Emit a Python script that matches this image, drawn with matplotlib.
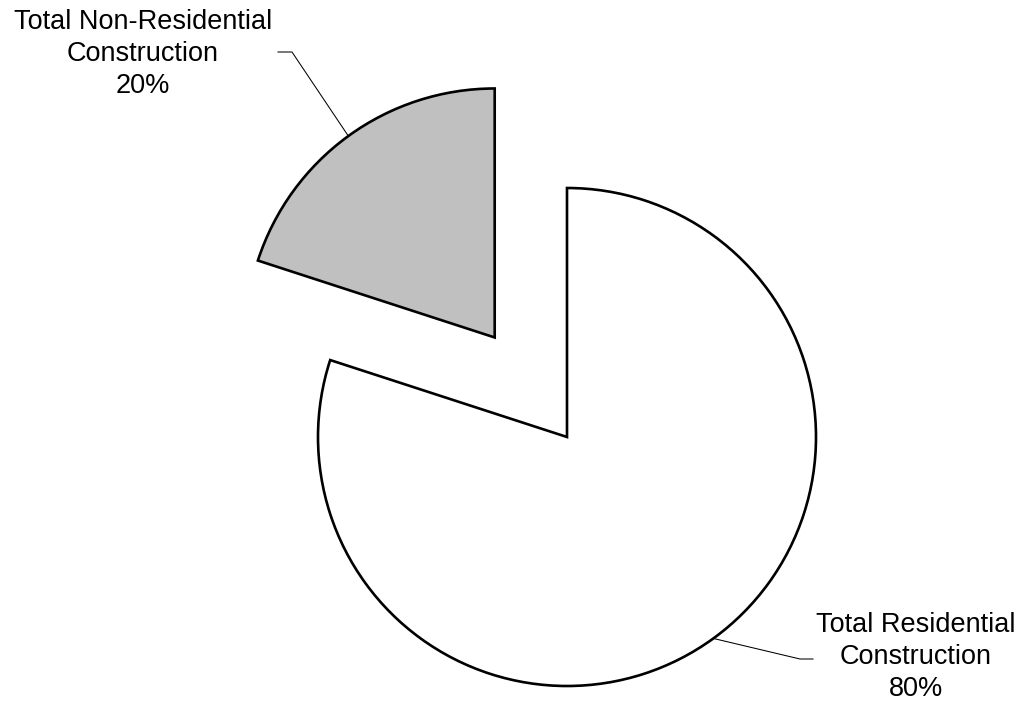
import numpy as np
import matplotlib
matplotlib.use('Agg')
import matplotlib.pyplot as plt

# construction spending split
labels = ['Total Residential\nConstruction', 'Total Non-Residential\nConstruction']
shares = [80, 20]
colors = ['#FFFFFF', '#C0C0C0']
explode = [0.0, 0.494]   # fraction of the radius

plt.rcParams['font.family'] = ['Liberation Sans', 'DejaVu Sans']

W, H = 1022, 706
fig = plt.figure(figsize=(W / 100, H / 100), dpi=100)
ax = fig.add_axes([0, 0, 1, 1])

cx, cy, R = 567, H - 437, 249
# pie() offsets exploded wedges in data units, so scale by the radius
wedges, _ = ax.pie(shares, colors=colors, explode=[e * R for e in explode],
                   startangle=90, counterclock=False, center=(cx, cy), radius=R,
                   wedgeprops=dict(edgecolor='black', linewidth=1.9),
                   frame=True)
ax.set_xlim(0, W)
ax.set_ylim(0, H)
ax.set_aspect('equal')
ax.axis('off')

# leader lines: from arc midpoint to a short horizontal stub by the label
stubs = [((800, H - 659), (813, H - 659)), ((292, H - 52), (278, H - 52))]
text_pos = [(916, H - 657), (143, H - 54)]
for w, (knee, end) in zip(wedges, stubs):
    mid = np.deg2rad((w.theta1 + w.theta2) / 2)
    wx, wy = w.center
    px = wx + w.r * np.cos(mid)
    py = wy + w.r * np.sin(mid)
    ax.plot([px, knee[0], end[0]], [py, knee[1], end[1]], color='black',
            linewidth=0.75, zorder=0)
for lab, s, (tx, ty) in zip(labels, shares, text_pos):
    ax.text(tx, ty, '%s\n%d%%' % (lab, s), ha='center', va='center',
            fontsize=19.5, linespacing=1.3)

fig.savefig('out.png', dpi=100)
